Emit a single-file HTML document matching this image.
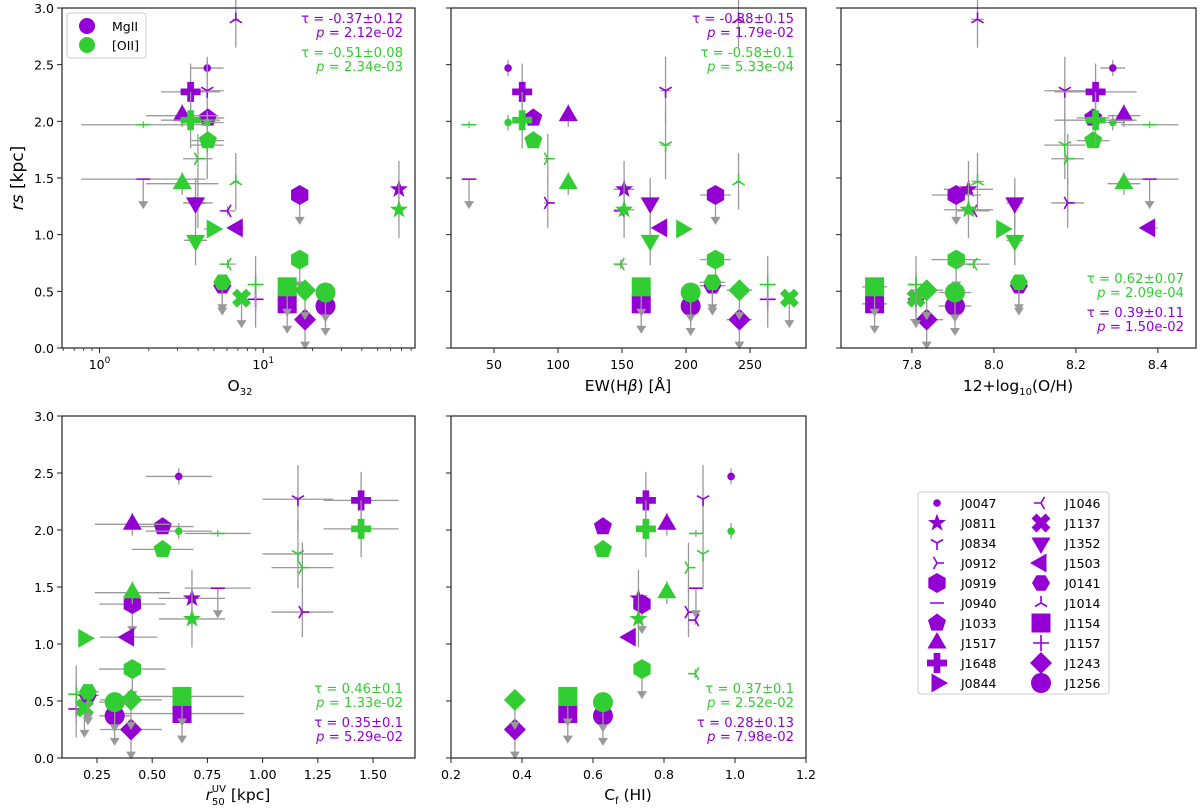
<!DOCTYPE html>
<html><head><meta charset="utf-8"><style>
html,body{margin:0;padding:0;background:#fff;}
svg{display:block;font-family:"DejaVu Sans","Liberation Sans",sans-serif;}
</style></head><body>
<svg id="chart" width="1200" height="812" viewBox="0 0 1200 812" xmlns="http://www.w3.org/2000/svg">
<g id="frames"></g>
</svg>
<script>
const names = ["J0047","J0811","J0834","J0912","J0919","J0940","J1033","J1517","J1648","J0844","J1046","J1137","J1352","J1503","J0141","J1014","J1154","J1157","J1243","J1256"];
const rsMg = [2.47,1.40,2.27,1.28,1.35,1.49,2.03,2.05,2.26,null,1.21,null,1.28,1.06,0.55,2.90,0.39,0.43,0.25,0.37];
const rsO  = [1.99,1.22,1.79,1.67,0.78,1.97,1.83,1.45,2.01,1.05,0.74,0.44,0.95,null,0.58,1.47,0.54,0.56,0.51,0.49];
const rsErr = [0.07,0.25,0.3,0.22,0.04,0.03,0.04,0.1,0.25,0.03,0.04,0.05,0.22,0.03,0.04,0.25,0.04,0.25,0.04,0.04];
const ulMg = [0,0,0,0,1,1,0,0,0,0,0,0,0,0,1,0,1,0,1,1];
const ulO  = [0,0,0,0,1,0,0,0,0,0,0,1,0,0,1,0,1,0,1,1];
const o32 = [4.55,67.4,4.55,3.99,16.7,1.85,4.59,3.2,3.6,4.88,6.05,7.37,3.86,6.94,5.62,6.8,14.0,8.98,18.0,24.0];
const o32Err = [0.1,0,0.1,0.09,0.02,0.38,0.1,0.22,0.18,0.05,0.05,0.02,0.07,0.04,0.02,0.02,0.02,0.02,0.02,0.02];
const ewHb = [61,151.6,184,92,223,30.5,80.7,108,72,196.6,149,280.7,172,181,220.6,241,165,263.8,241.7,203.6];
const ewErr = [2,8,4,3,12,6,2,2,2,4,5,2,2,4,10,2,6,2,10,6];
const ohAbund = [8.29,7.938,8.173,8.18,7.908,8.38,8.242,8.317,8.248,8.019,7.95,7.81,8.051,8.38,8.061,7.96,7.709,7.81,7.836,7.905];
const ohErr = [0.03,0.06,0.05,0.04,0.06,0.07,0.04,0.04,0.1,0.01,0.04,0.02,0.02,0.02,0.01,0.015,0.03,0.02,0.04,0.04];
const r50 = [0.62,0.68,1.16,1.18,0.41,0.797,0.547,0.41,1.446,0.19,null,0.193,null,0.393,0.209,null,0.635,0.156,0.404,0.33];
const r50Err = [0.15,0.15,0.16,0.14,0.15,0.15,0.14,0.17,0.17,0.02,0,0.02,0,0.13,0.05,0,0.28,0.02,0.14,0.07];
const cfHI = [0.989,0.728,0.91,0.869,0.738,0.89,0.628,0.808,0.749,null,0.888,null,null,0.705,null,null,0.529,null,0.38,0.628];
const cfErr = [0,0,0,0,0,0,0,0,0,0,0,0,0,0,0,0,0,0,0,0];
const yTicks = [0,0.5,1.0,1.5,2.0,2.5,3.0];
const yTickLabels = ["0.0","0.5","1.0","1.5","2.0","2.5","3.0"];
const stats = [
 [["-0.37±0.12","2.12e-02"],["-0.51±0.08","2.34e-03"]],
 [["-0.38±0.15","1.79e-02"],["-0.58±0.1","5.33e-04"]],
 [["0.39±0.11","1.50e-02"],["0.62±0.07","2.09e-04"]],
 [["0.35±0.1","5.29e-02"],["0.46±0.1","1.33e-02"]],
 [["0.28±0.13","7.98e-02"],["0.37±0.1","2.52e-02"]]
];

const PURPLE="#9400d3", GREEN="#32cd32", GRAY="#999999";
const markerTypes = ["o","*","1","4","h","_","p","^","P",">","3","X","v","<","H","2","s","+","D","O"];
const markerR = {"o":3.8,"*":9.5,"1":7,"4":7,"h":10,"_":7,"p":9.5,"^":10,"P":10,">":10,"3":7,"X":10,"v":10,"<":10,"H":9,"2":7,"s":9.5,"+":8,"D":11,"O":10};
const NS="http://www.w3.org/2000/svg";
const svg=document.getElementById('chart');
function el(tag,attrs,parent){const e=document.createElementNS(NS,tag);for(const k in attrs)e.setAttribute(k,attrs[k]);(parent||svg).appendChild(e);return e;}

const panels=[
 {x0:62,x1:415,y0:8,y1:348,dmin:0.59,dmax:84.5,log:true,xs:o32,xe:o32Err,ticks:[1,10],tl:["10","10"],ylab:true,name:"o32-panel",st:"top"},
 {x0:451,x1:806,y0:8,y1:348,dmin:16.4,dmax:293.7,xs:ewHb,xe:ewErr,ticks:[50,100,150,200,250],tl:["50","100","150","200","250"],name:"ewhb-panel",st:"top"},
 {x0:841,x1:1196,y0:8,y1:348,dmin:7.627,dmax:8.493,xs:ohAbund,xe:ohErr,ticks:[7.8,8.0,8.2,8.4],tl:["7.8","8.0","8.2","8.4"],name:"metallicity-panel",st:"bottom"},
 {x0:62,x1:415,y0:416,y1:758,dmin:0.0915,dmax:1.69,xs:r50,xe:r50Err,ticks:[0.25,0.5,0.75,1.0,1.25,1.5],tl:["0.25","0.50","0.75","1.00","1.25","1.50"],ylab:true,name:"r50-panel",st:"bottom"},
 {x0:451,x1:806,y0:416,y1:758,dmin:0.2,dmax:1.2,xs:cfHI,xe:cfErr,ticks:[0.2,0.4,0.6,0.8,1.0,1.2],tl:["0.2","0.4","0.6","0.8","1.0","1.2"],name:"cf-panel",st:"bottom"}
];

function marker(g,t,cx,cy,col){
 const r=markerR[t];let e;
 const pts=a=>a.map(p=>(cx+p[0])+","+(cy+p[1])).join(" ");
 const poly=(n,rot,rr)=>{const a=[];for(let i=0;i<n;i++){const th=rot+i*2*Math.PI/n;a.push([rr*Math.sin(th),-rr*Math.cos(th)]);}return a;};
 const lines=(segs)=>{const p=segs.map(s=>"M"+cx+","+cy+"l"+s[0]+","+s[1]).join("");return el('path',{d:p,stroke:col,'stroke-width':1.6,fill:'none'},g);};
 const c=0.87*r,h=0.5*r;
 switch(t){
  case "o":case "O":e=el('circle',{cx,cy,r,fill:col},g);break;
  case "*":{const a=[];for(let i=0;i<10;i++){const rr=i%2?r*0.4:r;const th=i*Math.PI/5;a.push([rr*Math.sin(th),-rr*Math.cos(th)]);}e=el('polygon',{points:pts(a),fill:col},g);break;}
  case "h":e=el('polygon',{points:pts(poly(6,0,r)),fill:col},g);break;
  case "H":e=el('polygon',{points:pts(poly(6,Math.PI/6,r)),fill:col},g);break;
  case "p":e=el('polygon',{points:pts(poly(5,0,r)),fill:col},g);break;
  case "^":e=el('polygon',{points:pts(poly(3,0,r*1.1)),fill:col},g);break;
  case "v":e=el('polygon',{points:pts(poly(3,Math.PI,r*1.1)),fill:col},g);break;
  case ">":e=el('polygon',{points:pts(poly(3,Math.PI/2,r*1.1)),fill:col},g);break;
  case "<":e=el('polygon',{points:pts(poly(3,-Math.PI/2,r*1.1)),fill:col},g);break;
  case "s":e=el('rect',{x:cx-r,y:cy-r,width:2*r,height:2*r,fill:col},g);break;
  case "D":e=el('polygon',{points:pts([[0,-r],[r,0],[0,r],[-r,0]]),fill:col},g);break;
  case "P":{const w=r/3;e=el('polygon',{points:pts([[-w,-r],[w,-r],[w,-w],[r,-w],[r,w],[w,w],[w,r],[-w,r],[-w,w],[-r,w],[-r,-w],[-w,-w]]),fill:col},g);break;}
  case "X":e=el('path',{d:`M${cx-r*0.7},${cy-r*0.7}L${cx+r*0.7},${cy+r*0.7}M${cx+r*0.7},${cy-r*0.7}L${cx-r*0.7},${cy+r*0.7}`,stroke:col,'stroke-width':r*0.7,fill:'none'},g);break;
  case "_":e=lines([[-r,0],[r,0]]);break;
  case "+":e=lines([[-r,0],[r,0],[0,-r],[0,r]]);break;
  case "1":e=lines([[0,r],[-c,-h],[c,-h]]);break;
  case "2":e=lines([[0,-r],[-c,h],[c,h]]);break;
  case "3":e=lines([[-r,0],[h,-c],[h,c]]);break;
  case "4":e=lines([[r,0],[-h,-c],[-h,c]]);break;
 }
 return e;
}

panels.forEach((P,pi)=>{
 const g=el('g',{});
 
 
 const sx=v=>P.log?P.x0+(Math.log10(v)-Math.log10(P.dmin))/(Math.log10(P.dmax)-Math.log10(P.dmin))*(P.x1-P.x0):P.x0+(v-P.dmin)/(P.dmax-P.dmin)*(P.x1-P.x0);
 const sy=v=>P.y1-v/3*(P.y1-P.y0);
 const dg=el('g',{},g);
 
 
 [[rsMg,ulMg,PURPLE,'mgii'],[rsO,ulO,GREEN,'oii']].forEach(([rs,ul,col,sp])=>{
  names.forEach((n,i)=>{
   const xv=P.xs[i],yv=rs[i];
   if(xv==null||yv==null)return;
   const cx=sx(xv),cy=sy(yv);
   const eg=el('g',{},dg);
   
   
   const xe=P.xe[i];
   if(xe>0){let xa,xb;if(P.log){xa=sx(xv/Math.pow(10,xe));xb=sx(xv*Math.pow(10,xe));}else{xa=sx(xv-xe);xb=sx(xv+xe);}
    el('line',{x1:xa,x2:xb,y1:cy,y2:cy,stroke:GRAY,'stroke-width':1.3},eg);}
   if(ul[i]){const ty=sy(yv-0.22);el('line',{x1:cx,x2:cx,y1:cy,y2:ty,stroke:GRAY,'stroke-width':1.3},eg);
    el('polygon',{points:`${cx-5},${ty-3} ${cx+5},${ty-3} ${cx},${ty+5}`,fill:GRAY},eg);}
   else{const ye=rsErr[i];el('line',{x1:cx,x2:cx,y1:sy(yv-ye),y2:sy(yv+ye),stroke:GRAY,'stroke-width':1.3},eg);}
   marker(eg,markerTypes[i],cx,cy,col);
  });
 });
 const fr=el('rect',{x:P.x0,y:P.y0,width:P.x1-P.x0,height:P.y1-P.y0,fill:'none',stroke:'#222','stroke-width':1.2},g);
 
 
 yTicks.forEach((t,k)=>{const y=sy(t);el('line',{x1:P.x0-5,x2:P.x0,y1:y,y2:y,stroke:'#222','stroke-width':1},g);
  if(P.ylab){const tx=el('text',{x:P.x0-8,y:y+5,'text-anchor':'end','font-size':12.5,fill:'#000'},g);tx.textContent=yTickLabels[k];
   }});
 P.ticks.forEach((t,k)=>{const x=sx(t);el('line',{x1:x,x2:x,y1:P.y1,y2:P.y1+5,stroke:'#222','stroke-width':1},g);
  const tx=el('text',{x:x,y:P.y1+21,'text-anchor':'middle','font-size':12.5,fill:'#000'},g);
  
  tx.textContent=P.tl[k];
  if(P.log){const s=el('tspan',{dy:-6,'font-size':9},tx);s.textContent=k===0?"0":"1";}});
 if(P.log){[0.6,0.7,0.8,0.9,2,3,4,5,6,7,8,9,20,30,40,50,60,70,80].forEach(t=>{const x=sx(t);el('line',{x1:x,x2:x,y1:P.y1,y2:P.y1+3,stroke:'#222','stroke-width':0.8},g);});}
 const rx=P.x1-12;
 const order=P.st==="top"?[0,1]:[1,0];
 const base=P.st==="top"?P.y0+15:P.y1-65;
 order.forEach((s,j)=>{const col=s===0?PURPLE:GREEN;
  const vals=stats[pi][s];
  const t1=el('text',{x:rx,y:base+j*34,'text-anchor':'end','font-size':13.2,fill:col},g);
  
  t1.textContent="τ = "+vals[0];
  const t2=el('text',{x:rx,y:base+j*34+14,'text-anchor':'end','font-size':13.2,fill:col},g);
  
  t2.innerHTML='<tspan font-style="italic">p</tspan> = '+vals[1];
 });
});

function label(x,y,html,name,rot,fs){const t=el('text',{x,y,'text-anchor':'middle','font-size':fs||15.5,fill:'#000'});if(rot)t.setAttribute('transform',`rotate(-90 ${x} ${y})`);t.innerHTML=html;return t;}
label(23,178,'<tspan font-style="italic">rs</tspan> [kpc]','y-axis-title',true,17);
label(240,391,'O<tspan font-size="10" dy="4">32</tspan>','x-axis-title-o32');
label(628,391,'EW(H<tspan font-style="italic">β</tspan>) [Å]','x-axis-title-ewhb');
label(1018,391,'12+log<tspan font-size="10" dy="4">10</tspan><tspan dy="-4">(O/H)</tspan>','x-axis-title-metallicity');
label(238,800,'<tspan font-style="italic">r</tspan><tspan font-size="10" dy="5">50</tspan><tspan font-size="10" dx="-13" dy="-13">UV</tspan><tspan dy="8"> [kpc]</tspan>','x-axis-title-r50');
label(628,800,'C<tspan font-size="10" dy="4">f</tspan><tspan dy="-4"> (HI)</tspan>','x-axis-title-cf');

const lg=el('g',{});


el('rect',{x:67,y:13,width:79,height:45,rx:3,fill:'#fff',stroke:'#ccc','stroke-width':1},lg);
el('circle',{cx:87,cy:26,r:8,fill:PURPLE},lg);
el('circle',{cx:87,cy:45,r:8,fill:GREEN},lg);
const t1=el('text',{x:112,y:31,'font-size':12.5,fill:'#000'},lg);t1.textContent="MgII";
const t2=el('text',{x:112,y:50,'font-size':12.5,fill:'#000'},lg);t2.textContent="[OII]";

const ol=el('g',{});


el('rect',{x:918,y:492,width:191,height:202,rx:3,fill:'#fff',stroke:'#ccc','stroke-width':1},ol);
names.forEach((n,i)=>{
 const col=i<10?0:1,row=i%10;
 const mx=col===0?937:1041,tx=col===0?961:1065,y=503+row*20;
 const eg=el('g',{},ol);
 
 
 marker(eg,markerTypes[i],mx,y,PURPLE);
 const t=el('text',{x:tx,y:y+5,'font-size':12.5,fill:'#000'},eg);t.textContent=n;
});
</script>
</body></html>
